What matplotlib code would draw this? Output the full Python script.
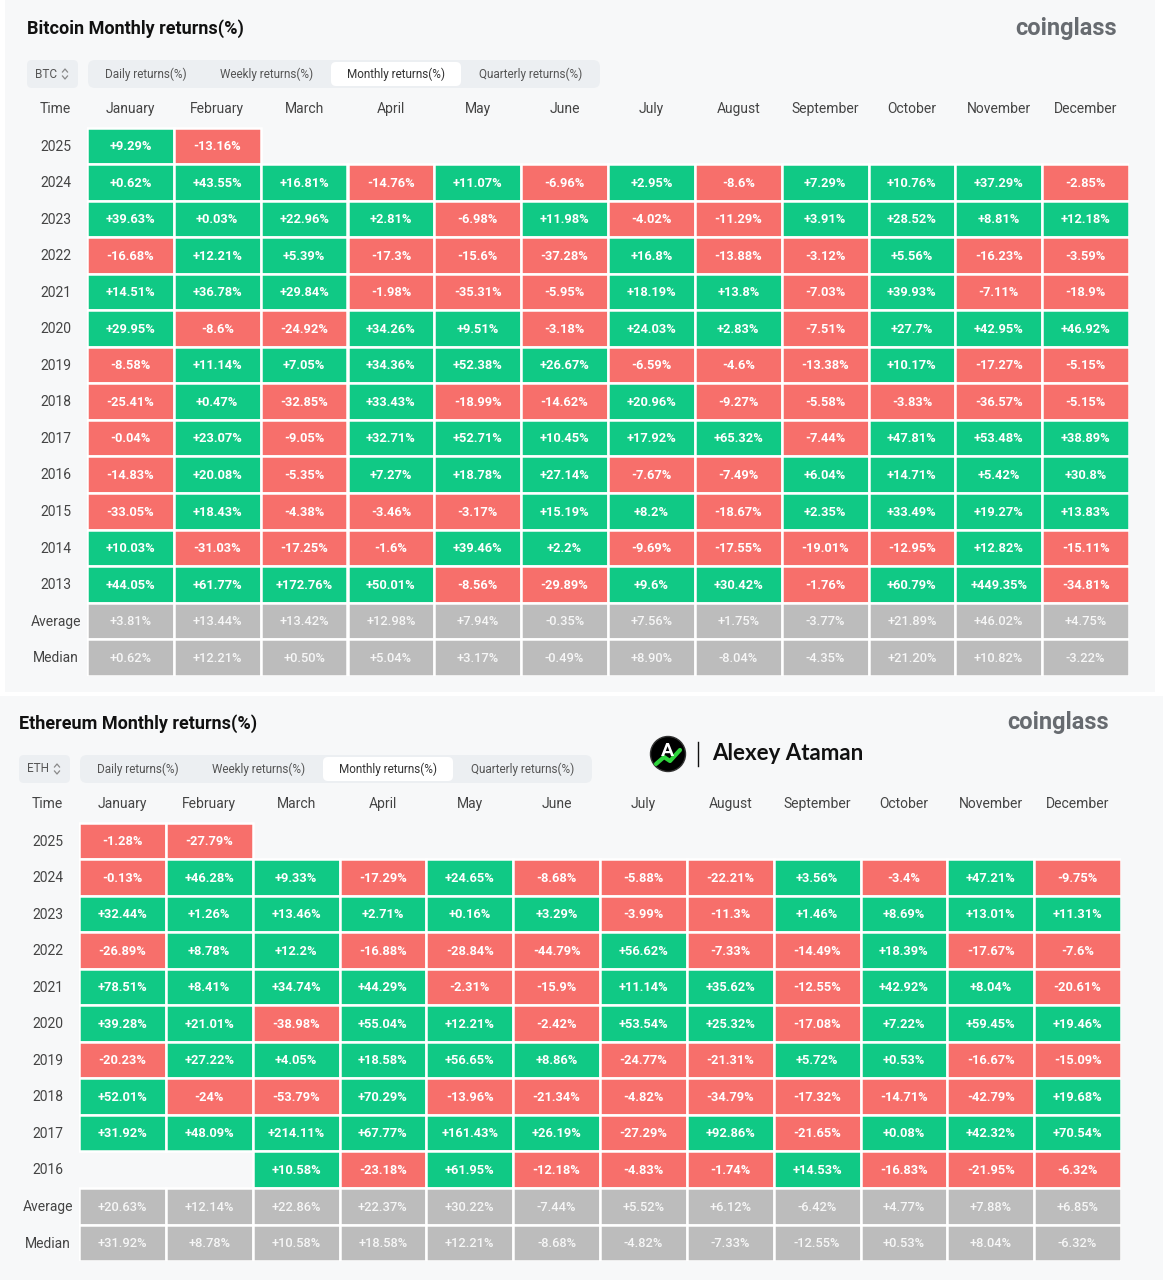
import matplotlib.pyplot as plt
from matplotlib.patches import Rectangle, FancyBboxPatch, Circle

W, H = 1163, 1280

MONTHS = ["January", "February", "March", "April", "May", "June",
          "July", "August", "September", "October", "November", "December"]

# Bitcoin monthly returns (%), newest year first
BTC_YEARS = ["2025", "2024", "2023", "2022", "2021", "2020", "2019",
             "2018", "2017", "2016", "2015", "2014", "2013"]
BTC_RETURNS = [
    [9.29, -13.16, None, None, None, None, None, None, None, None, None, None],
    [0.62, 43.55, 16.81, -14.76, 11.07, -6.96, 2.95, -8.6, 7.29, 10.76, 37.29, -2.85],
    [39.63, 0.03, 22.96, 2.81, -6.98, 11.98, -4.02, -11.29, 3.91, 28.52, 8.81, 12.18],
    [-16.68, 12.21, 5.39, -17.3, -15.6, -37.28, 16.8, -13.88, -3.12, 5.56, -16.23, -3.59],
    [14.51, 36.78, 29.84, -1.98, -35.31, -5.95, 18.19, 13.8, -7.03, 39.93, -7.11, -18.9],
    [29.95, -8.6, -24.92, 34.26, 9.51, -3.18, 24.03, 2.83, -7.51, 27.7, 42.95, 46.92],
    [-8.58, 11.14, 7.05, 34.36, 52.38, 26.67, -6.59, -4.6, -13.38, 10.17, -17.27, -5.15],
    [-25.41, 0.47, -32.85, 33.43, -18.99, -14.62, 20.96, -9.27, -5.58, -3.83, -36.57, -5.15],
    [-0.04, 23.07, -9.05, 32.71, 52.71, 10.45, 17.92, 65.32, -7.44, 47.81, 53.48, 38.89],
    [-14.83, 20.08, -5.35, 7.27, 18.78, 27.14, -7.67, -7.49, 6.04, 14.71, 5.42, 30.8],
    [-33.05, 18.43, -4.38, -3.46, -3.17, 15.19, 8.2, -18.67, 2.35, 33.49, 19.27, 13.83],
    [10.03, -31.03, -17.25, -1.6, 39.46, 2.2, -9.69, -17.55, -19.01, -12.95, 12.82, -15.11],
    [44.05, 61.77, 172.76, 50.01, -8.56, -29.89, 9.6, 30.42, -1.76, 60.79, 449.35, -34.81],
]
BTC_AVERAGE = [3.81, 13.44, 13.42, 12.98, 7.94, -0.35, 7.56, 1.75, -3.77, 21.89, 46.02, 4.75]
BTC_MEDIAN = [0.62, 12.21, 0.50, 5.04, 3.17, -0.49, 8.90, -8.04, -4.35, 21.20, 10.82, -3.22]

# Ethereum monthly returns (%)
ETH_YEARS = ["2025", "2024", "2023", "2022", "2021", "2020", "2019",
             "2018", "2017", "2016"]
ETH_RETURNS = [
    [-1.28, -27.79, None, None, None, None, None, None, None, None, None, None],
    [-0.13, 46.28, 9.33, -17.29, 24.65, -8.68, -5.88, -22.21, 3.56, -3.4, 47.21, -9.75],
    [32.44, 1.26, 13.46, 2.71, 0.16, 3.29, -3.99, -11.3, 1.46, 8.69, 13.01, 11.31],
    [-26.89, 8.78, 12.2, -16.88, -28.84, -44.79, 56.62, -7.33, -14.49, 18.39, -17.67, -7.6],
    [78.51, 8.41, 34.74, 44.29, -2.31, -15.9, 11.14, 35.62, -12.55, 42.92, 8.04, -20.61],
    [39.28, 21.01, -38.98, 55.04, 12.21, -2.42, 53.54, 25.32, -17.08, 7.22, 59.45, 19.46],
    [-20.23, 27.22, 4.05, 18.58, 56.65, 8.86, -24.77, -21.31, 5.72, 0.53, -16.67, -15.09],
    [52.01, -24, -53.79, 70.29, -13.96, -21.34, -4.82, -34.79, -17.32, -14.71, -42.79, 19.68],
    [31.92, 48.09, 214.11, 67.77, 161.43, 26.19, -27.29, 92.86, -21.65, 0.08, 42.32, 70.54],
    [None, None, 10.58, -23.18, 61.95, -12.18, -4.83, -1.74, 14.53, -16.83, -21.95, -6.32],
]
ETH_AVERAGE = [20.63, 12.14, 22.86, 22.37, 30.22, -7.44, 5.52, 6.12, -6.42, 4.77, 7.88, 6.85]
ETH_MEDIAN = [31.92, 8.78, 10.58, 18.58, 12.21, -8.68, -4.82, -7.33, -12.55, 0.53, 8.04, -6.32]

TABS = ["Daily returns(%)", "Weekly returns(%)", "Monthly returns(%)", "Quarterly returns(%)"]

GREEN = "#10c985"
RED = "#f76f6b"
GRAY = "#bcbcbc"
PANEL = "#f7f8f9"
CTRL = "#eceff2"
LABEL = "#444444"

plt.rcParams["font.family"] = ["Roboto", "DejaVu Sans"]

fig = plt.figure(figsize=(W / 100, H / 100), dpi=100)
fig.patch.set_facecolor("white")

# full-figure pixel axes for decoration
bg = fig.add_axes([0, 0, 1, 1])
bg.set_xlim(0, W)
bg.set_ylim(H, 0)
bg.axis("off")

bg.add_patch(Rectangle((5, 0), 1150, 692, facecolor=PANEL, edgecolor="none"))
bg.add_patch(Rectangle((0, 696), W, H - 696, facecolor=PANEL, edgecolor="none"))


def header(dx, dy, title, coin):
    bg.text(27 + dx, 29 + dy, title, fontsize=13, fontweight="bold",
            color="#111111", va="center", ha="left")
    bg.text(1117 + dx, 28 + dy, "coinglass", fontsize=17, fontweight="bold",
            color="#676b70", va="center", ha="right")
    bg.add_patch(FancyBboxPatch((27 + dx, 60 + dy), 51, 28,
                                boxstyle="round,pad=0,rounding_size=5",
                                facecolor=CTRL, edgecolor="none"))
    bg.text(35 + dx, 74 + dy, coin, fontsize=8.5, color="#555555",
            va="center", ha="left")
    cx = 65 + dx
    bg.plot([cx - 2.5, cx, cx + 2.5], [72 + dy, 69 + dy, 72 + dy], color="#888888", lw=0.9)
    bg.plot([cx - 2.5, cx, cx + 2.5], [76 + dy, 79 + dy, 76 + dy], color="#888888", lw=0.9)
    bg.add_patch(FancyBboxPatch((88 + dx, 60 + dy), 512, 28,
                                boxstyle="round,pad=0,rounding_size=7",
                                facecolor=CTRL, edgecolor="none"))
    bg.add_patch(FancyBboxPatch((331 + dx, 62 + dy), 130, 24,
                                boxstyle="round,pad=0,rounding_size=5",
                                facecolor="white", edgecolor="none"))
    for name, x in zip(TABS, [146, 267, 396, 531]):
        bg.text(x + dx, 74 + dy, name, fontsize=8.5,
                color="#333333" if name.startswith("Monthly") else "#555555",
                va="center", ha="center")


def draw_table(rect, years, returns, average, median):
    x0, y0, x1, y1 = rect
    ax = fig.add_axes([x0 / W, 1 - y1 / H, (x1 - x0) / W, (y1 - y0) / H])
    rows = [(y, r, False) for y, r in zip(years, returns)]
    rows += [("Average", average, True), ("Median", median, True)]
    n = len(rows)
    ax.set_xlim(0, 12)
    ax.set_ylim(n, -1)
    ax.axis("off")

    ax.text(-0.36, -0.5, "Time", fontsize=10, color=LABEL, ha="center", va="center")
    for j, m in enumerate(MONTHS):
        ax.text(j + 0.5, -0.5, m, fontsize=10, color=LABEL, ha="center", va="center")

    for i, (label, vals, stat) in enumerate(rows):
        ax.text(-0.36, i + 0.52, label, fontsize=10, color=LABEL,
                ha="center", va="center", clip_on=False)
        for j, v in enumerate(vals):
            if v is None:
                continue
            if stat:
                fc, txt, tc, fw = GRAY, f"{v:+.2f}%", "#f7f7f7", "medium"
            else:
                fc = GREEN if v >= 0 else RED
                txt, tc, fw = f"{v:+g}%", "white", "bold"
            ax.add_patch(Rectangle((j, i), 1, 1, facecolor=fc,
                                   edgecolor="white", lw=1.8))
            ax.text(j + 0.5, i + 0.52, txt, fontsize=9.3, color=tc,
                    fontweight=fw, ha="center", va="center")


PITCH = 36.55

# Bitcoin panel
header(0, 0, "Bitcoin Monthly returns(%)", "BTC")
top = 127.5 - PITCH
draw_table((87, top, 1129, top + PITCH * (len(BTC_YEARS) + 3)),
           BTC_YEARS, BTC_RETURNS, BTC_AVERAGE, BTC_MEDIAN)

# Ethereum panel
header(-8, 695, "Ethereum Monthly returns(%)", "ETH")
top = 127.5 + 695 - PITCH
draw_table((79, top, 1121, top + PITCH * (len(ETH_YEARS) + 3)),
           ETH_YEARS, ETH_RETURNS, ETH_AVERAGE, ETH_MEDIAN)

# watermark
bg.add_patch(Circle((668, 754), 17.5, facecolor="black", edgecolor="#333333", lw=1))
bg.text(667, 751, "A", fontsize=14, fontweight="bold", color="white",
        ha="center", va="center")
bg.plot([656, 664, 670, 680], [764, 757, 761, 750], color="#2ed33c", lw=3,
        solid_capstyle="round")
bg.plot([698, 698], [742, 766], color="#111111", lw=1)
bg.text(712, 754, "Alexey Ataman", fontsize=16, fontweight="bold",
        color="#111111", ha="left", va="center", family=["Lato", "DejaVu Sans"])

fig.savefig("out.png", dpi=100, facecolor=fig.get_facecolor())
